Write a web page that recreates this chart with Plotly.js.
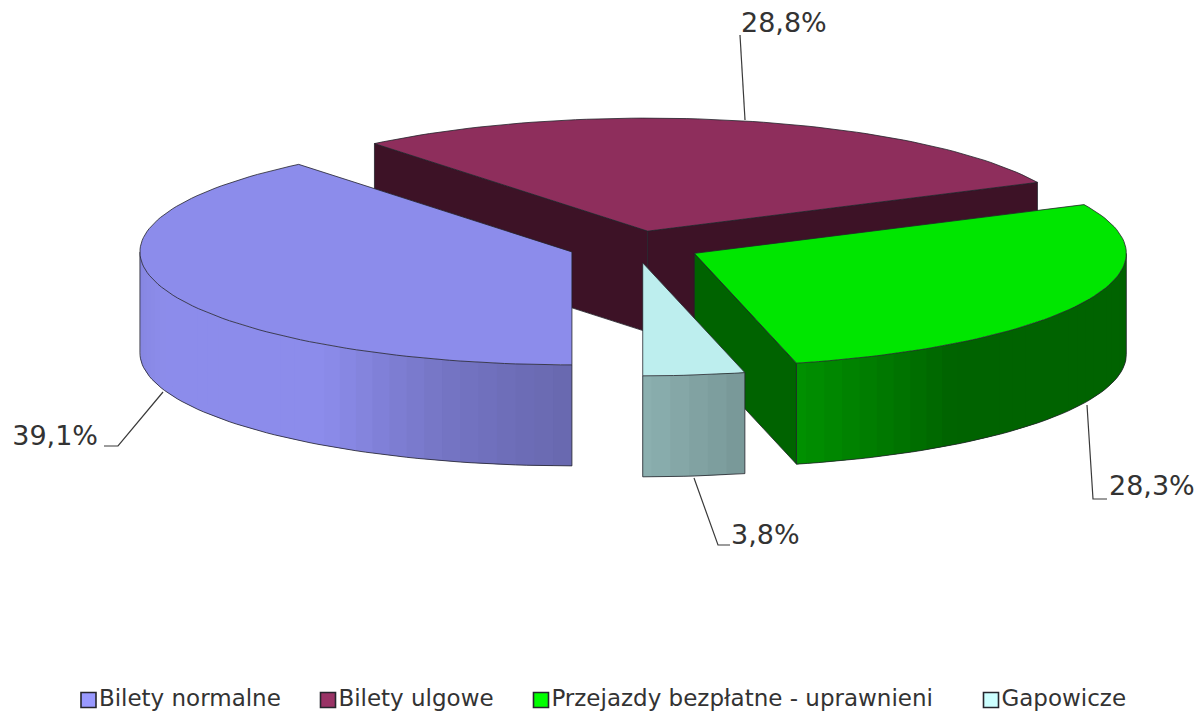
<!DOCTYPE html>
<html lang="pl">
<head>
<meta charset="utf-8">
<title>Struktura przejazdów</title>
<script src="https://cdn.plot.ly/plotly-3.0.1.min.js"></script>
<style>html,body{margin:0;padding:0;background:#fff}#chart{width:1198px;height:711px}</style>
</head>
<body>
<div id="chart"></div>
<script>
// Chart data
const categories = ['Bilety normalne', 'Bilety ulgowe', 'Przejazdy bezpłatne - uprawnieni', 'Gapowicze'];
const shares = [39.1, 28.8, 28.3, 3.8];
const topColors = ['#8c8ceb', '#8e2e5c', '#00e600', '#bdeeee'];
const swatchColors = ['#9999ff', '#993366', '#00ff00', '#ccffff'];
const faceColors = ['#6c6cb0', '#3d1226', '#006300', '#8fb3b3'];
const pulls = [0.155, 0.135, 0.152, 0.15];

// Disc projection: an ellipse seen from above, extruded downwards
const CX = 635, CY = 246, RX = 432, RY = 113, DEPTH = 101;
const START_ANGLE = 180;
const EDGE = '#23232b';
const FONT = 'DejaVu Sans';

// Label furniture
const leaders = [
  {x: [163, 118, 104], y: [392, 446, 446]},
  {x: [745, 740], y: [120, 35]},
  {x: [1087, 1093, 1107], y: [405, 499, 499]},
  {x: [694, 718, 730], y: [478, 545, 545]}
];
const labelAnchors = [
  {x: 98, y: 438, pos: 'middle left'},
  {x: 741, y: 25, pos: 'middle right'},
  {x: 1109, y: 488, pos: 'middle right'},
  {x: 731, y: 537, pos: 'middle right'}
];
const legendSwatchX = [88.5, 328, 541, 991];
const LEGEND_Y = 700;

// Rim lighting as brightness stops over the clockwise angle
const lightStops = [[60, 0.43], [143, 0.43], [166, 0.63], [180, 0.74], [198, 0.84], [215, 1], [250, 1], [270, 0.95], [300, 0.95]];
function light(theta) {
  for (let i = 1; i < lightStops.length; i++) {
    const [a, u] = lightStops[i - 1], [b, v] = lightStops[i];
    if (theta <= b) return u + (v - u) * (theta - a) / (b - a);
  }
  return 1;
}
function shade(hex, k) {
  const n = parseInt(hex.slice(1), 16);
  const c = [n >> 16, (n >> 8) & 255, n & 255].map(v => Math.round(v * k));
  return `rgb(${c[0]},${c[1]},${c[2]})`;
}
const rad = d => d * Math.PI / 180;

const traces = [];
function polygon(xs, ys, fill) {
  traces.push({
    type: 'scatter', mode: 'lines', x: xs, y: ys, fill: 'toself', fillcolor: fill,
    line: {width: 0}, hoverinfo: 'skip', showlegend: false
  });
}
function stroke(xs, ys, color, width) {
  traces.push({
    type: 'scatter', mode: 'lines', x: xs, y: ys,
    line: {color: color, width: width}, hoverinfo: 'skip', showlegend: false
  });
}

// Slice geometry from the shares; angles are kept within one turn of the start
const total = shares.reduce((a, b) => a + b, 0);
let cursor = START_ANGLE;
const slices = shares.map((v, i) => {
  let a0 = cursor, a1 = cursor + v / total * 360;
  cursor = a1;
  if (a0 >= 360) { a0 -= 360; a1 -= 360; }
  const mid = rad((a0 + a1) / 2);
  const cx = CX + pulls[i] * RX * Math.sin(mid);
  const cy = CY - pulls[i] * RY * Math.cos(mid);
  const rim = t => [cx + RX * Math.sin(rad(t)), cy - RY * Math.cos(rad(t))];
  return {i, a0, a1, cx, cy, rim};
});
function arc(s, from, to) {
  const n = Math.max(2, Math.ceil(Math.abs(to - from) / 1.5));
  const pts = [];
  for (let k = 0; k <= n; k++) pts.push(s.rim(from + (to - from) * k / n));
  return pts;
}

function drawFace(s, angle) {
  const [x, y] = s.rim(angle);
  polygon([s.cx, x, x, s.cx, s.cx], [s.cy, y, y + DEPTH, s.cy + DEPTH, s.cy], faceColors[s.i]);
  stroke([s.cx, x, x, s.cx, s.cx], [s.cy, y, y + DEPTH, s.cy + DEPTH, s.cy], EDGE, 0.8);
}
function drawWall(s, from, to) {
  // The visible outer wall is the lower half of the disc. Each strip runs on under
  // the next one, so neighbouring fills leave no seam.
  const lo = Math.max(from, 90), hi = Math.min(to, 270);
  if (hi <= lo) return;
  const step = 2.5;
  for (let t = lo; t < hi - 1e-6; t += step) {
    const e = Math.min(t + step, hi);
    const pts = arc(s, t, Math.min(e + step, hi));
    const xs = pts.map(p => p[0]).concat(pts.slice().reverse().map(p => p[0]));
    const ys = pts.map(p => p[1]).concat(pts.slice().reverse().map(p => p[1] + DEPTH));
    polygon(xs.concat(xs[0]), ys.concat(ys[0]), shade(topColors[s.i], light((t + e) / 2)));
  }
  const bottom = arc(s, lo, hi);
  stroke(bottom.map(p => p[0]), bottom.map(p => p[1] + DEPTH), EDGE, 0.8);
  [lo, hi].forEach(t => {
    const [x, y] = s.rim(t);
    stroke([x, x], [y, y + DEPTH], EDGE, 0.8);
  });
}
function drawTop(s) {
  const pts = arc(s, s.a0, s.a1);
  const xs = [s.cx].concat(pts.map(p => p[0]), s.cx);
  const ys = [s.cy].concat(pts.map(p => p[1]), s.cy);
  polygon(xs, ys, topColors[s.i]);
  stroke(xs, ys, EDGE, 0.8);
}

// Back slice first, nearer slices over it
const [normal, ulgowe, bezplatne, gapowicze] = slices;
drawFace(ulgowe, ulgowe.a0);
drawFace(ulgowe, ulgowe.a1);
drawTop(ulgowe);

drawWall(normal, normal.a0, normal.a1);
drawTop(normal);

drawFace(bezplatne, bezplatne.a1);
drawWall(bezplatne, bezplatne.a0, bezplatne.a1);
drawTop(bezplatne);

drawWall(gapowicze, gapowicze.a0, gapowicze.a1);
drawTop(gapowicze);

// Leader lines and value labels
leaders.forEach(l => stroke(l.x, l.y, '#3a3a3a', 1.2));
shares.forEach((v, i) => {
  traces.push({
    type: 'scatter', mode: 'text', x: [labelAnchors[i].x], y: [labelAnchors[i].y],
    text: [v.toFixed(1).replace('.', ',') + '%'], textposition: labelAnchors[i].pos,
    textfont: {family: FONT, size: 27, color: '#333333'},
    hoverinfo: 'skip', showlegend: false
  });
});

// Legend row
categories.forEach((name, i) => {
  traces.push({
    type: 'scatter', mode: 'markers+text', x: [legendSwatchX[i]], y: [LEGEND_Y],
    marker: {symbol: 'square', size: 15, color: swatchColors[i], line: {color: '#26262e', width: 1.6}},
    text: [name], textposition: 'middle right',
    textfont: {family: FONT, size: 23, color: '#333333'},
    cliponaxis: false, name: name, hoverinfo: 'name', showlegend: false
  });
});

const hiddenAxis = {visible: false, fixedrange: true, showgrid: false, zeroline: false};
Plotly.newPlot('chart', traces, {
  width: 1198, height: 711,
  margin: {l: 0, r: 0, t: 0, b: 0},
  paper_bgcolor: '#ffffff', plot_bgcolor: '#ffffff',
  showlegend: false,
  xaxis: Object.assign({range: [0, 1198]}, hiddenAxis),
  yaxis: Object.assign({range: [711, 0]}, hiddenAxis)
}, {displayModeBar: false, staticPlot: true});
</script>
</body>
</html>
